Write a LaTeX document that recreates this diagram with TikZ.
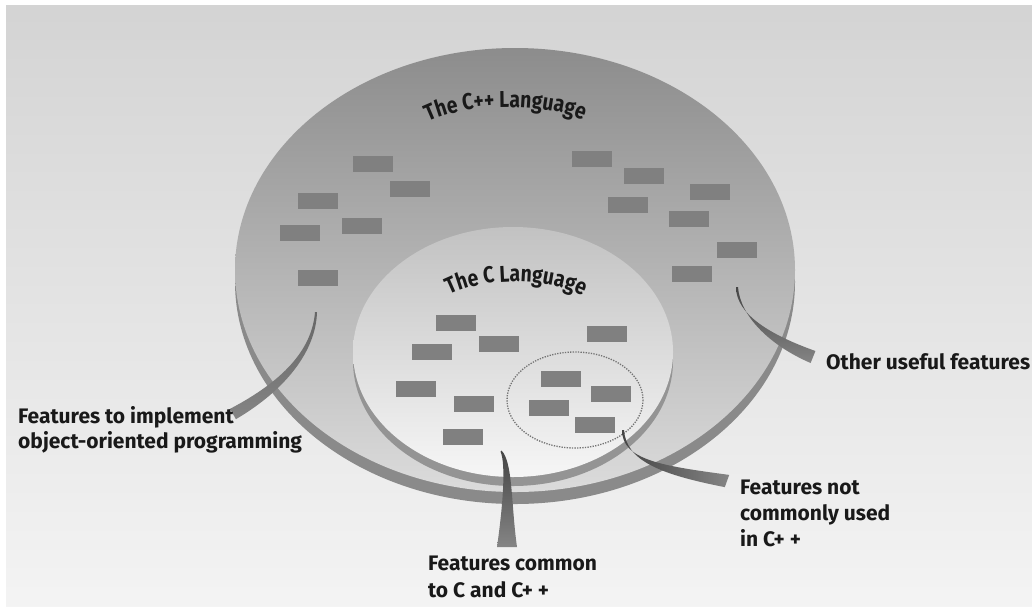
\documentclass[tikz,border=0pt]{standalone}
\usepackage{fontspec}
\newfontfamily\lblfont{Fira Sans}
\newfontfamily\arcfont[FakeStretch=0.84]{Fira Sans}
\usetikzlibrary{decorations.text}

\definecolor{bgtop}{gray}{0.83}
\definecolor{bgbot}{gray}{0.955}
\definecolor{outerTop}{gray}{0.55}
\definecolor{outerMid}{gray}{0.77}
\definecolor{outerBot}{gray}{0.86}
\definecolor{outerRim}{gray}{0.54}
\definecolor{innerTop}{gray}{0.76}
\definecolor{innerMid}{gray}{0.93}
\definecolor{innerBot}{gray}{0.965}
\definecolor{innerRim}{gray}{0.58}
\definecolor{chipgray}{gray}{0.50}
\definecolor{dotgray}{gray}{0.45}
\definecolor{leaddark}{gray}{0.27}
\definecolor{leadmid}{gray}{0.40}
\definecolor{leadlight}{gray}{0.52}
\definecolor{inkgray}{gray}{0.10}

\newcommand\titlefnt{\arcfont\bfseries\fontsize{23}{26}\selectfont}

\tikzset{
  chip/.style={fill=chipgray, minimum width=40pt, minimum height=16pt, inner sep=0pt},
  dotring/.style={draw=dotgray, line width=1.3pt, dash pattern=on 1.3pt off 1.3pt},
  label/.style={font=\lblfont\bfseries\fontsize{21}{26}\selectfont, text=inkgray,
                inner sep=0pt, anchor=base west},
  arctitle/.style={decorate, decoration={text along path, text align=center,
                text color=inkgray}}
}

\begin{document}
\begin{tikzpicture}[x=1pt,y=-1pt]
\useasboundingbox (0,0) rectangle (1032,606);

% backdrop
\fill[white] (0,0) rectangle (1032,606);
\shade[top color=bgtop, bottom color=bgbot] (6,5) rectangle (1032,606);

% outer disc: rim, then surface
\fill[outerRim] (515,282) ellipse [x radius=280, y radius=222];
\shade[top color=outerTop, middle color=outerMid, bottom color=outerBot]
  (515,270) ellipse [x radius=280, y radius=222];

% inner disc: rim, then surface
\fill[innerRim] (513,361) ellipse [x radius=160, y radius=125];
\shade[top color=innerTop, middle color=innerMid, bottom color=innerBot]
  (513,352) ellipse [x radius=160, y radius=125];

% curved titles
\path[arctitle, decoration={text={|\titlefnt|The C++ Language}}]
  (416,130) .. controls (452,100) and (558,100) .. (596,127);
\path[arctitle, decoration={text={|\titlefnt|The C Language}}]
  (436,304) .. controls (468,274) and (562,274) .. (596,305);

% features of the outer ring
\node[chip] (o1)  at (373,164) {};
\node[chip] (o2)  at (410,189) {};
\node[chip] (o3)  at (318,201) {};
\node[chip] (o4)  at (300,233) {};
\node[chip] (o5)  at (362,226) {};
\node[chip] (o6)  at (318,278) {};
\node[chip] (o7)  at (592,159) {};
\node[chip] (o8)  at (644,176) {};
\node[chip] (o9)  at (710,192) {};
\node[chip] (o10) at (628,205) {};
\node[chip] (o11) at (689,219) {};
\node[chip] (o12) at (737,250) {};
\node[chip] (o13) at (692,274) {};

% features of the inner disc
\node[chip] (c1)  at (456,323) {};
\node[chip] (c2)  at (499,344) {};
\node[chip] (c3)  at (432,352) {};
\node[chip] (c4)  at (607,334) {};
\node[chip] (c5)  at (416,389) {};
\node[chip] (c6)  at (474,404) {};
\node[chip] (c7)  at (463,437) {};

% rarely used group
\draw[dotring] (575,400) ellipse [x radius=68, y radius=48];
\node[chip] (r1) at (561,379) {};
\node[chip] (r2) at (611,394) {};
\node[chip] (r3) at (549,408) {};
\node[chip] (r4) at (595,425) {};

% tapered leaders
\shade[top color=leadmid, bottom color=leadlight]
  (317,312) .. controls (316,350) and (287.2,388.9) .. (235.9,419.2)
  -- (230.1,408.8) .. controls (282.8,381.1) and (312,350) .. (315,312) -- cycle;
\shade[top color=leaddark, bottom color=leadlight]
  (738,287) .. controls (740,315) and (768.2,344.7) .. (810.6,363.0)
  -- (815.4,351.0) .. controls (771.8,335.4) and (736,315) .. (736,287) -- cycle;
\shade[top color=leaddark, bottom color=leadlight]
  (501.5,450.5) .. controls (513,462) and (511,505) .. (517,547)
  -- (497,547) .. controls (503,505) and (506,464) .. (500.5,451.5) -- cycle;
\shade[left color=leaddark, right color=leadlight]
  (624,430) .. controls (626,460) and (658.5,474.2) .. (724.8,487.1)
  -- (729.2,474.9) .. controls (661.5,465.8) and (622,460) .. (622,430) -- cycle;

% labels
\node[label] (oop1) at (18,423) {Features to implement};
\node[label] (oop2) at (18,448) {object-oriented programming};
\node[label] (other) at (826,369) {Other useful features};
\node[label] (rare1) at (740,494) {Features not};
\node[label] (rare2) at (740,520) {commonly used};
\node[label] (rare3) at (740,546) {in C+ +};
\node[label] (comm1) at (428,570) {Features common};
\node[label] (comm2) at (428,597) {to C and C+ +};
\end{tikzpicture}
\end{document}
